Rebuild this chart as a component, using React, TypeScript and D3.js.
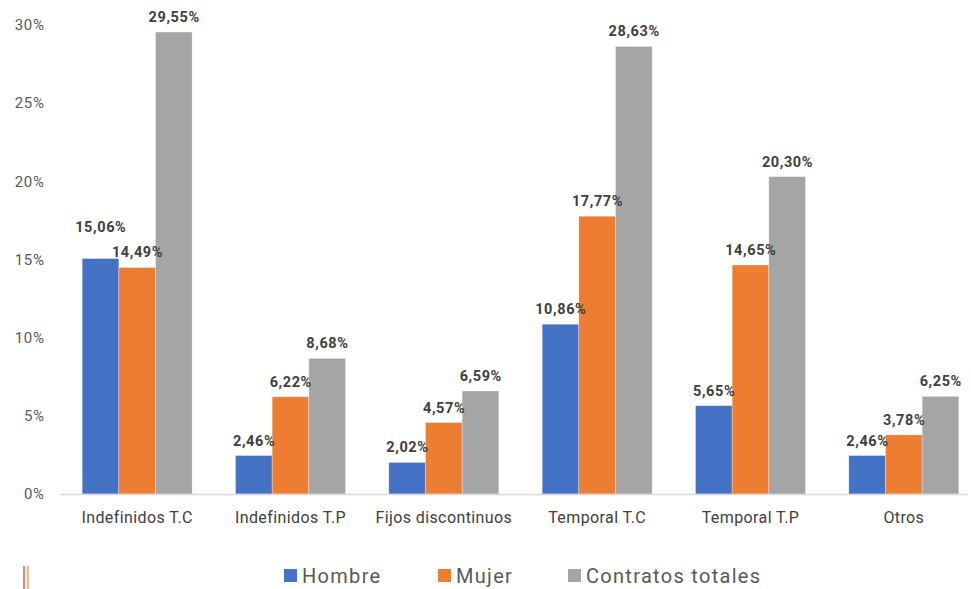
import React from "react";
import * as d3 from "d3";

const categories = ["Indefinidos T.C", "Indefinidos T.P", "Fijos discontinuos", "Temporal T.C", "Temporal T.P", "Otros"];
const hombre = [15.06, 2.46, 2.02, 10.86, 5.65, 2.46];
const mujer = [14.49, 6.22, 4.57, 17.77, 14.65, 3.78];
const totales = [29.55, 8.68, 6.59, 28.63, 20.3, 6.25];
const seriesNames = ["Hombre", "Mujer", "Contratos totales"];
const seriesColors = ["#4472C4", "#ED7D31", "#A5A5A5"];
const yTicks = [0, 5, 10, 15, 20, 25, 30];

const W = 971;
const H = 589;
const FONT = "Roboto, 'DejaVu Sans', sans-serif";

// label nudges (Excel moved the first label up to avoid overlap)
const labelNudge: Record<string, number> = { "0-0": -17 };

export default function App() {
  const series = [hombre, mujer, totales];
  const y = d3.scaleLinear().domain([0, 30]).range([494, 25]);
  const x0 = d3.scaleBand<string>().domain(categories).range([60.5, 980.5]).paddingInner(0).paddingOuter(0);
  const groupW = 110;
  const x1 = d3.scaleBand<string>().domain(seriesNames).range([0, groupW]).padding(0);
  const fmt = (v: number) => v.toFixed(2).replace(".", ",") + "%";
  const bw = x1.bandwidth();
  const barX = (i: number, j: number) =>
    (x0(categories[i]) as number) + (x0.bandwidth() - groupW) / 2 + (x1(seriesNames[j]) as number);

  const legendPos = [284, 438, 568];

  return (
    <svg width={W} height={H} style={{ position: "fixed", left: 0, top: 0, background: "#fff" }} fontFamily={FONT}>
      <rect x={0} y={0} width={W} height={H} fill="#fff" />
      {yTicks.map((t) => (
        <text key={t} x={44.5} y={y(t)} dy="0.35em" textAnchor="end" fontSize={15} letterSpacing={0.6} fill="#595959">
          {t}%
        </text>
      ))}
      <g>
        {categories.map((c, i) =>
          series.map((s, j) => (
            <rect key={`${i}-${j}`} x={barX(i, j)} y={y(s[i])} width={bw} height={y(0) - y(s[i])} fill={seriesColors[j]} stroke="#ffffff" strokeOpacity={0.5} strokeWidth={0.6} />
          ))
        )}
      </g>
      <line x1={60} x2={968} y1={y(0) + 0.5} y2={y(0) + 0.5} stroke="#D9D9D9" strokeWidth={1.5} />
      <g>
        {categories.map((c, i) =>
          series.map((s, j) => {
            const nudge = labelNudge[`${i}-${j}`] ?? 0;
            return (
              <text key={`${i}-${j}`} x={barX(i, j) + bw / 2 + 0.3} y={y(s[i]) - 10 + nudge} textAnchor="middle" fontSize={14.5} letterSpacing={0.6} fontWeight="bold" fill="#404040">
                {fmt(s[i])}
              </text>
            );
          })
        )}
      </g>
      {categories.map((c) => (
        <text key={c} x={(x0(c) as number) + x0.bandwidth() / 2} y={523} textAnchor="middle" fontSize={16} letterSpacing={0.4} fill="#404040">
          {c}
        </text>
      ))}
      {seriesNames.map((n, j) => (
        <g key={n}>
          <rect x={legendPos[j]} y={569} width={13} height={13} fill={seriesColors[j]} />
          <text x={legendPos[j] + 18} y={576} dy="0.35em" fontSize={20} letterSpacing={1.3} fill="#595959">
            {n}
          </text>
        </g>
      ))}
      <line x1={24} x2={24} y1={566} y2={589} stroke="#D9642A" strokeWidth={1.5} />
      <line x1={27.8} x2={27.8} y1={566} y2={589} stroke="#F4B183" strokeWidth={2} />
    </svg>
  );
}
